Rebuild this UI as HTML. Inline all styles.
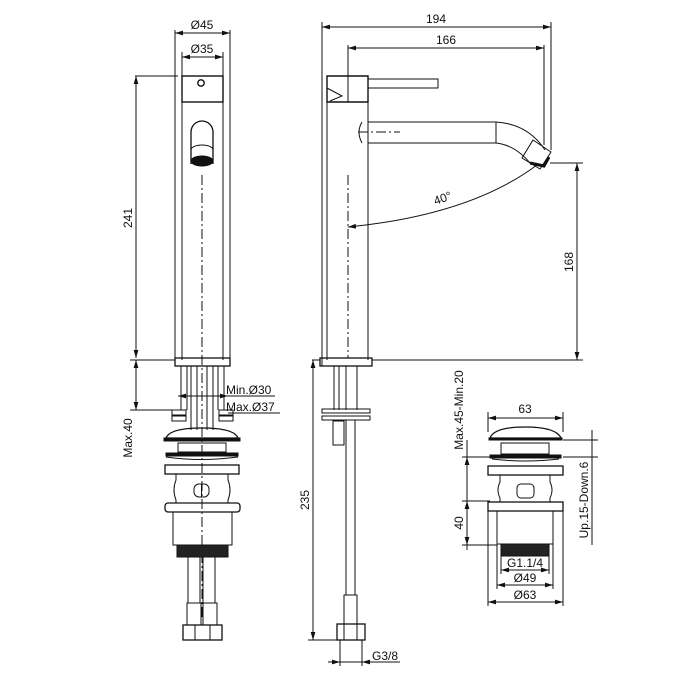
<!DOCTYPE html>
<html><head><meta charset="utf-8"><style>
html,body{margin:0;padding:0;background:#fff}
svg{display:block}
text{font-family:"Liberation Sans",sans-serif;font-size:12px;fill:#111}
</style></head><body>
<svg width="700" height="700" viewBox="0 0 700 700" xmlns="http://www.w3.org/2000/svg">
<defs>
<marker id="a" viewBox="0 0 10 6" refX="10" refY="3" markerWidth="8" markerHeight="5" orient="auto-start-reverse"><path d="M0,0L10,3L0,6z" fill="#111"/></marker>
</defs>
<g fill="none" stroke="#111" stroke-width="1">
<!-- LEFT VIEW -->
<line x1="175" y1="30" x2="175" y2="366"/><line x1="230" y1="30" x2="230" y2="366"/>
<line x1="182" y1="52" x2="182" y2="360"/><line x1="223" y1="52" x2="223" y2="360"/>
<line x1="175" y1="33" x2="230" y2="33" marker-start="url(#a)" marker-end="url(#a)"/>
<line x1="182" y1="57" x2="223" y2="57" marker-start="url(#a)" marker-end="url(#a)"/>
<rect x="182" y="76" width="41" height="26" stroke-width="1.4"/>
<circle cx="201" cy="83" r="3.2" stroke-width="1.4"/>
<path d="M191,164 V132 a11,11 0 0 1 22,0 V164" stroke-width="1.3"/>
<path d="M191,150 a11,5 0 0 1 22,0"/>
<ellipse cx="202" cy="161" rx="11" ry="5" fill="#111"/>
<line x1="202" y1="175" x2="202" y2="620" stroke-dasharray="10,3,2,3"/>
<line x1="135" y1="76" x2="178" y2="76"/>
<line x1="136" y1="76" x2="136" y2="358" marker-start="url(#a)" marker-end="url(#a)"/>
<rect x="175" y="358" width="55" height="8" stroke-width="1.3"/>
<line x1="130" y1="360" x2="175" y2="360"/>
<line x1="130" y1="410" x2="185" y2="410"/>
<line x1="136" y1="360" x2="136" y2="410" marker-start="url(#a)" marker-end="url(#a)"/>
<line x1="181" y1="366" x2="181" y2="410"/><line x1="187" y1="366" x2="187" y2="410"/>
<line x1="191" y1="366" x2="191" y2="430"/><line x1="197" y1="366" x2="197" y2="430"/>
<line x1="207" y1="366" x2="207" y2="430"/><line x1="213" y1="366" x2="213" y2="430"/>
<line x1="218" y1="366" x2="218" y2="410"/><line x1="224" y1="366" x2="224" y2="410"/>
<line x1="178" y1="396" x2="228" y2="396" marker-start="url(#a)" marker-end="url(#a)"/>
<line x1="228" y1="396" x2="275" y2="396"/><line x1="228" y1="413" x2="280" y2="413"/>
<rect x="172" y="410" width="14" height="5"/><rect x="172" y="416" width="14" height="5"/>
<rect x="219" y="410" width="14" height="5"/><rect x="219" y="416" width="14" height="5"/>
<path d="M166,438 Q170,428 202,428 Q234,428 238,438 Z" stroke-width="1.3"/>
<rect x="164" y="438" width="76" height="3" fill="#111"/>
<rect x="178" y="443" width="48" height="9"/>
<rect x="166" y="453" width="72" height="3" fill="#111"/>
<path d="M166,457 Q200,462 238,457"/>
<rect x="165" y="465" width="74" height="9" stroke-width="1.3"/>
<path d="M176,474 V480 Q172,490 176,500 V503 M228,474 V480 Q232,490 228,500 V503"/>
<rect x="194" y="484" width="15" height="13" rx="5"/><line x1="201.5" y1="484" x2="201.5" y2="497"/>
<rect x="165" y="503" width="75" height="9" rx="3" stroke-width="1.3"/>
<rect x="173" y="512" width="59" height="33"/>
<rect x="177" y="545" width="51" height="12" fill="#222"/>
<line x1="188" y1="557" x2="188" y2="603"/><line x1="200" y1="557" x2="200" y2="603"/>
<line x1="203" y1="557" x2="203" y2="603"/><line x1="215" y1="557" x2="215" y2="603"/>
<rect x="187" y="603" width="14" height="22"/><rect x="203" y="603" width="14" height="22"/>
<rect x="183" y="625" width="39" height="15" stroke-width="1.3"/>
<line x1="195" y1="625" x2="195" y2="640"/><line x1="210" y1="625" x2="210" y2="640"/>
<!-- RIGHT VIEW -->
<line x1="322" y1="22" x2="322" y2="366"/>
<line x1="327" y1="100" x2="327" y2="360"/><line x1="368" y1="100" x2="368" y2="360"/>
<line x1="322" y1="27" x2="551" y2="27" marker-start="url(#a)" marker-end="url(#a)"/>
<line x1="348" y1="48" x2="544" y2="48" marker-start="url(#a)" marker-end="url(#a)"/>
<line x1="348" y1="45" x2="348" y2="102"/>
<line x1="348" y1="175" x2="348" y2="358" stroke-dasharray="10,3,2,3"/>
<line x1="551" y1="22" x2="551" y2="150"/><line x1="544" y1="45" x2="544" y2="145"/>
<path d="M327,76 H368 V102 H327 Z" stroke-width="1.4"/>
<path d="M327,88 L342,96 L330,101" />
<rect x="368" y="79" width="70" height="9"/>
<path d="M368,122 H496 Q528,124 545,150 M368,143 H496 Q515,145 530,163 M496,122 V143"/>
<path d="M533,140 L551,152 L540,169 L522,158 Z"/>
<path d="M530,163 L544,166 L549,157" stroke-width="3"/>
<path d="M362,122 Q356,132 362,143"/><line x1="358" y1="132" x2="400" y2="132" stroke-dasharray="10,3,2,3"/>
<path d="M348,227 Q470,215 537,165" marker-start="url(#a)"/>
<line x1="550" y1="163" x2="583" y2="163"/>
<line x1="577" y1="163" x2="577" y2="360" marker-start="url(#a)" marker-end="url(#a)"/>
<line x1="372" y1="360" x2="583" y2="360"/>
<rect x="320" y="358" width="52" height="8" stroke-width="1.3"/>
<line x1="312" y1="360" x2="320" y2="360"/>
<line x1="334" y1="366" x2="334" y2="410"/><line x1="339" y1="366" x2="339" y2="410"/>
<line x1="346" y1="366" x2="346" y2="410"/><line x1="357" y1="366" x2="357" y2="410"/>
<rect x="322" y="409" width="48" height="4"/><rect x="322" y="416" width="48" height="4"/>
<rect x="333" y="421" width="11" height="24"/>
<line x1="346" y1="420" x2="346" y2="595"/><line x1="355" y1="420" x2="355" y2="595"/>
<rect x="344" y="595" width="13" height="29"/>
<rect x="337" y="624" width="28" height="16" stroke-width="1.3"/>
<line x1="344" y1="624" x2="344" y2="640"/><line x1="357" y1="624" x2="357" y2="640"/>
<line x1="308" y1="640" x2="337" y2="640"/>
<line x1="313" y1="360" x2="313" y2="640" marker-start="url(#a)" marker-end="url(#a)"/>
<line x1="340" y1="640" x2="340" y2="666"/><line x1="362" y1="640" x2="362" y2="666"/>
<line x1="328" y1="662" x2="340" y2="662" marker-end="url(#a)"/>
<line x1="374" y1="662" x2="362" y2="662" marker-end="url(#a)"/>
<line x1="340" y1="662" x2="400" y2="662"/>
<!-- DRAIN RIGHT -->
<line x1="488" y1="412" x2="488" y2="432"/><line x1="563" y1="412" x2="563" y2="432"/>
<line x1="488" y1="418" x2="563" y2="418" marker-start="url(#a)" marker-end="url(#a)"/>
<path d="M490,438 Q494,427 525,427 Q556,427 561,438 Z" stroke-width="1.3"/>
<rect x="489" y="438" width="73" height="2" fill="#111"/>
<rect x="501" y="443" width="48" height="11"/>
<rect x="490" y="455" width="71" height="3" fill="#111"/>
<path d="M492,459 Q525,463 559,459"/>
<rect x="488" y="466" width="75" height="9" stroke-width="1.3"/>
<path d="M500,475 V482 Q496,490 500,498 V502 M550,475 V482 Q554,490 550,498 V502"/>
<rect x="517" y="484" width="17" height="14" rx="4"/>
<rect x="488" y="502" width="75" height="9" stroke-width="1.3"/>
<rect x="497" y="511" width="56" height="33"/>
<rect x="501" y="544" width="48" height="12" fill="#222"/>
<line x1="501" y1="556" x2="501" y2="574"/><line x1="549" y1="556" x2="549" y2="574"/>
<line x1="497" y1="544" x2="497" y2="589"/><line x1="553" y1="544" x2="553" y2="589"/>
<line x1="488" y1="511" x2="488" y2="606"/><line x1="563" y1="511" x2="563" y2="606"/>
<line x1="501" y1="570" x2="549" y2="570" marker-start="url(#a)" marker-end="url(#a)"/>
<line x1="497" y1="585" x2="553" y2="585" marker-start="url(#a)" marker-end="url(#a)"/>
<line x1="488" y1="602" x2="563" y2="602" marker-start="url(#a)" marker-end="url(#a)"/>
<line x1="462" y1="457" x2="490" y2="457"/><line x1="462" y1="501" x2="490" y2="501"/><line x1="462" y1="545" x2="497" y2="545"/>
<line x1="467" y1="440" x2="467" y2="550"/>
<line x1="467" y1="501" x2="467" y2="545" marker-start="url(#a)" marker-end="url(#a)"/>
<line x1="467" y1="457" x2="467" y2="501" marker-start="url(#a)"/>
<line x1="563" y1="440" x2="598" y2="440"/><line x1="563" y1="457" x2="598" y2="457"/>
<line x1="592" y1="430" x2="592" y2="545"/>
</g>
<text x="202" y="29" text-anchor="middle">Ø45</text>
<text x="202" y="53" text-anchor="middle">Ø35</text>
<text transform="translate(132,218) rotate(-90)" text-anchor="middle">241</text>
<text transform="translate(132,438) rotate(-90)" text-anchor="middle">Max.40</text>
<text x="226" y="394">Min.Ø30</text>
<text x="226" y="411">Max.Ø37</text>
<text x="436" y="23" text-anchor="middle">194</text>
<text x="446" y="44" text-anchor="middle">166</text>
<text transform="translate(444,202) rotate(-20)" text-anchor="middle">40°</text>
<text transform="translate(573,262) rotate(-90)" text-anchor="middle">168</text>
<text transform="translate(309,500) rotate(-90)" text-anchor="middle">235</text>
<text x="372" y="660">G3/8</text>
<text x="525" y="413" text-anchor="middle">63</text>
<text transform="translate(463,410) rotate(-90)" text-anchor="middle">Max.45-Min.20</text>
<text transform="translate(463,523) rotate(-90)" text-anchor="middle">40</text>
<text transform="translate(588,500) rotate(-90)" text-anchor="middle">Up.15-Down.6</text>
<text x="525" y="567" text-anchor="middle">G1.1/4</text>
<text x="525" y="582" text-anchor="middle">Ø49</text>
<text x="525" y="599" text-anchor="middle">Ø63</text>
</svg>
</body></html>
